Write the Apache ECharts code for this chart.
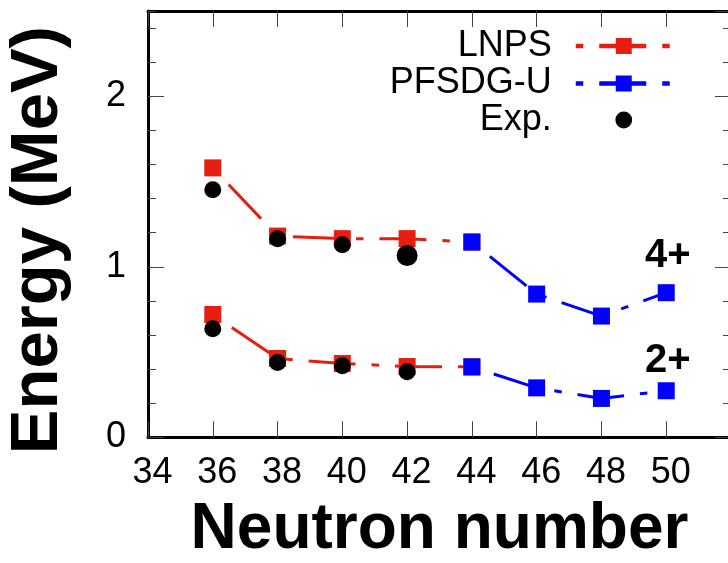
<!DOCTYPE html>
<html><head><meta charset="utf-8">
<script src="https://cdn.jsdelivr.net/npm/echarts@6/dist/echarts.min.js"></script>
<style>html,body{margin:0;padding:0;background:#fff}#c{width:728px;height:563px}</style>
</head><body><div id="c"></div>
<script>
// ---- data ----
const neutronsLNPS = [36, 38, 40, 42, 44];
const neutronsPFSDG = [44, 46, 48, 50];
const neutronsExp = [36, 38, 40, 42];
const lnps4 = [1.58, 1.18, 1.165, 1.165, 1.145];
const lnps2 = [0.72, 0.462, 0.433, 0.415, 0.413];
const pfsdg4 = [1.145, 0.84, 0.711, 0.848];
const pfsdg2 = [0.413, 0.29, 0.228, 0.273];
const exp4 = [1.452, 1.164, 1.129, 1.066];
const exp2 = [0.637, 0.439, 0.419, 0.384];
const xTickLabels = [34, 36, 38, 40, 42, 44, 46, 48, 50];
const yTickLabels = [0, 1, 2];
const stateLabels = ['4+', '2+'];
const stateLabelAnchors = [[50.05, 1.066], [50.05, 0.447]];

// ---- styling ----
const RED = '#e51e10', BLUE = '#0000ff', BLACK = '#000';
const FONT = 'Liberation Sans';
const dash = [47, 16, 7.5, 16];
const pairs = (xs, ys) => xs.map((x, i) => [x, ys[i]]);

const chart = echarts.init(document.getElementById('c'), null, {renderer: 'canvas'});

const tickStyle = {color: '#444', width: 1};
const frame = {show: true, onZero: false, lineStyle: {color: BLACK, width: 3}};

function lineSeries(name, color, xs, ys, labelIdx) {
  const s = {
    name, type: 'line', data: pairs(xs, ys),
    symbol: 'rect', symbolSize: 17, showAllSymbol: true,
    itemStyle: {color, opacity: 1},
    lineStyle: {color, width: 3, type: dash, dashOffset: 63.5, cap: 'butt', opacity: 1},
    emphasis: {disabled: true}, animation: false, silent: true, z: 2
  };
  if (labelIdx != null) {
    s.markPoint = {
      symbol: 'circle', symbolSize: 0, silent: true, animation: false,
      label: {show: true, position: 'inside', formatter: stateLabels[labelIdx],
              fontSize: 40, fontWeight: 'bold', color: BLACK, fontFamily: FONT},
      data: [{coord: stateLabelAnchors[labelIdx]}]
    };
  }
  return s;
}

// experimental points: markers only (line hidden), so the legend icon is a centred dot
function expSeries(ys, sizeFn) {
  return {
    name: 'Exp.', type: 'line', data: pairs(neutronsExp, ys),
    symbol: 'circle', symbolSize: sizeFn, showAllSymbol: true,
    itemStyle: {color: BLACK, opacity: 1},
    lineStyle: {width: 0, opacity: 0},
    z: 3, silent: true, emphasis: {disabled: true}, animation: false
  };
}

function legendFor(name, top, itemHeight, lineOpacity) {
  return {
    data: [name], orient: 'vertical', align: 'right', right: 54, top,
    padding: 0, itemWidth: 96, itemHeight, selectedMode: false,
    textStyle: {fontSize: 36, color: BLACK, fontFamily: FONT, padding: [0, 19, 0, 0]},
    itemStyle: {opacity: 1},
    lineStyle: {dashOffset: 63, width: 4.5, opacity: lineOpacity}
  };
}

const option = {
  animation: false,
  textStyle: {fontFamily: FONT},
  grid: {left: 148, right: -3, top: 11, bottom: 125.7, containLabel: false, outerBoundsMode: 'none'},
  xAxis: [
    {
      type: 'value', position: 'bottom', min: 34, max: 52, interval: 2,
      axisLine: frame,
      axisTick: {show: true, inside: true, length: 16, lineStyle: tickStyle},
      axisLabel: {show: true, fontSize: 36, color: BLACK, fontFamily: FONT, margin: 18,
                  padding: [0, 0, 0, 9], showMaxLabel: false,
                  formatter: v => xTickLabels.includes(v) ? String(v) : ''},
      splitLine: {show: false},
      name: 'Neutron number', nameLocation: 'middle', nameGap: 61,
      nameTextStyle: {fontSize: 64, fontWeight: 'bold', color: BLACK, fontFamily: FONT}
    },
    {
      type: 'value', position: 'top', min: 34, max: 52, interval: 2,
      axisLine: frame,
      axisTick: {show: true, inside: true, length: 16, lineStyle: tickStyle},
      axisLabel: {show: false}, splitLine: {show: false}
    }
  ],
  yAxis: [
    {
      type: 'value', position: 'left', min: 0, max: 2.5, interval: 1,
      axisLine: frame,
      axisTick: {show: true, inside: true, length: 16, lineStyle: tickStyle},
      axisLabel: {show: true, fontSize: 36, color: BLACK, fontFamily: FONT, margin: 22,
                  showMaxLabel: false,
                  formatter: v => yTickLabels.includes(v) ? String(v) : ''},
      splitLine: {show: false},
      name: 'Energy (MeV)', nameLocation: 'middle', nameGap: 76,
      nameTextStyle: {fontSize: 67, fontWeight: 'bold', color: BLACK, fontFamily: FONT,
                      padding: [0, 32, 0, 0]}
    },
    {
      type: 'value', position: 'left', min: 0, max: 2.5, interval: 0.2,
      axisLine: {show: false},
      axisTick: {show: true, inside: true, length: 8, lineStyle: tickStyle},
      axisLabel: {show: false}, splitLine: {show: false}
    },
    {
      type: 'value', position: 'right', min: 0, max: 2.5, interval: 1,
      axisLine: frame,
      axisTick: {show: true, inside: true, length: 16, lineStyle: tickStyle},
      axisLabel: {show: false}, splitLine: {show: false}
    },
    {
      type: 'value', position: 'right', min: 0, max: 2.5, interval: 0.2,
      axisLine: {show: false},
      axisTick: {show: true, inside: true, length: 8, lineStyle: tickStyle},
      axisLabel: {show: false}, splitLine: {show: false}
    }
  ],
  legend: [
    legendFor('LNPS', 28, 20, 1),
    legendFor('PFSDG-U', 65.5, 20, 1),
    legendFor('Exp.', 102, 21, 0)
  ],
  series: [
    lineSeries('LNPS', RED, neutronsLNPS, lnps4),
    lineSeries('LNPS', RED, neutronsLNPS, lnps2),
    lineSeries('PFSDG-U', BLUE, neutronsPFSDG, pfsdg4, 0),
    lineSeries('PFSDG-U', BLUE, neutronsPFSDG, pfsdg2, 1),
    expSeries(exp4, (v, p) => p.dataIndex === 3 ? 21 : 17),
    expSeries(exp2, 17)
  ]
};
chart.setOption(option);
</script>
</body></html>
